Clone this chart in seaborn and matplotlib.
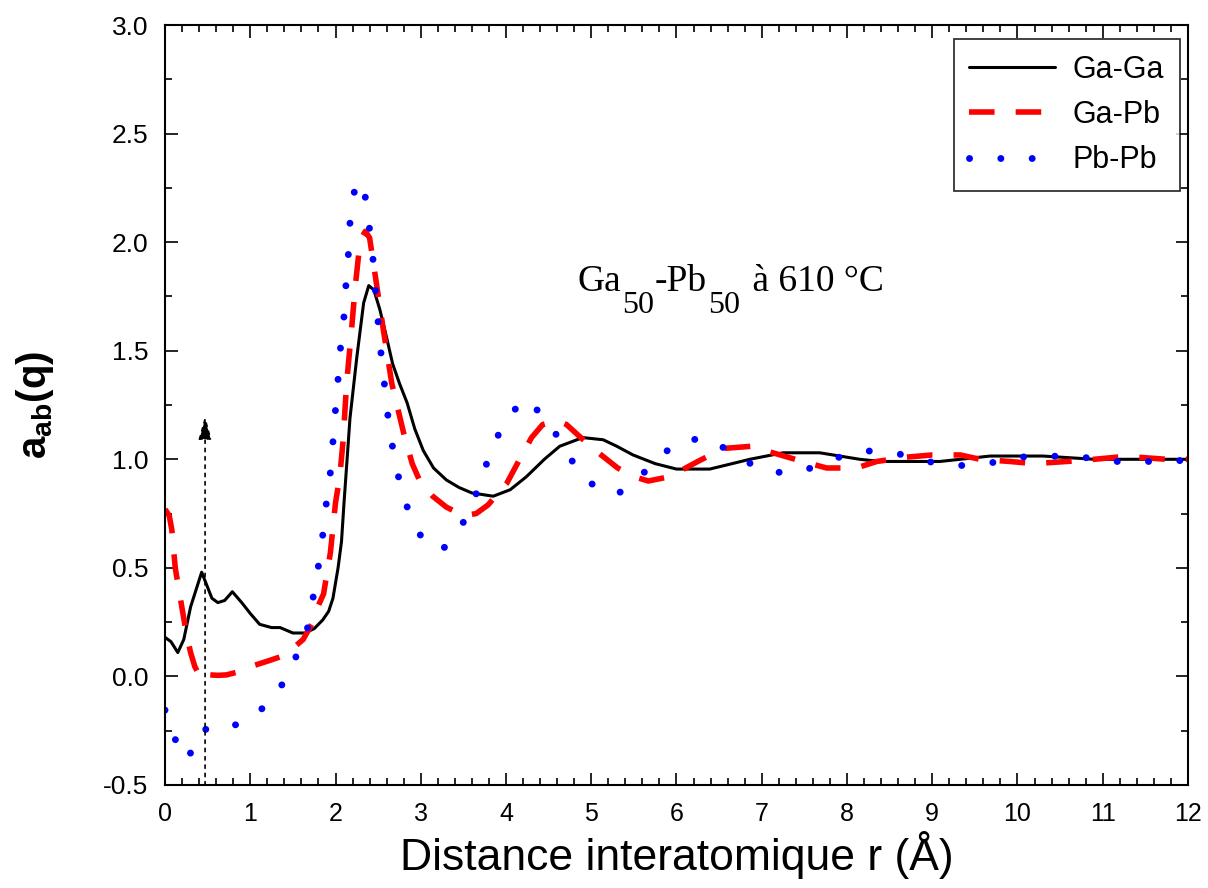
import numpy as np
import pandas as pd
import matplotlib
matplotlib.use("Agg")
import matplotlib.pyplot as plt
import seaborn as sns
from matplotlib.ticker import MultipleLocator, FormatStrFormatter

# Ga-Ga (solid black)
r_gaga = [0.0, 0.07, 0.15, 0.22, 0.3, 0.43, 0.5, 0.55, 0.62, 0.7, 0.79, 0.9, 1.0, 1.11,
          1.25, 1.35, 1.5, 1.64, 1.75, 1.85, 1.92, 1.97, 2.03, 2.07, 2.1, 2.17, 2.25,
          2.33, 2.39, 2.45, 2.52, 2.6, 2.67, 2.75, 2.84, 2.93, 3.03, 3.15, 3.3, 3.45,
          3.6, 3.85, 4.05, 4.24, 4.45, 4.63, 4.9, 5.14, 5.3, 5.49, 5.75, 6.0, 6.39,
          6.6, 6.86, 7.25, 7.68, 8.15, 8.39, 9.09, 9.68, 10.3, 10.9, 12.0]
a_gaga = [0.18, 0.16, 0.11, 0.17, 0.32, 0.48, 0.41, 0.36, 0.34, 0.35, 0.39, 0.34, 0.29, 0.24,
          0.225, 0.225, 0.20, 0.20, 0.22, 0.26, 0.30, 0.36, 0.50, 0.62, 0.80, 1.19, 1.47,
          1.72, 1.80, 1.78, 1.69, 1.56, 1.44, 1.35, 1.26, 1.14, 1.04, 0.96, 0.905, 0.87,
          0.845, 0.83, 0.86, 0.92, 1.0, 1.06, 1.10, 1.09, 1.06, 1.02, 0.98, 0.955, 0.955,
          0.975, 1.0, 1.03, 1.03, 1.0, 0.99, 0.99, 1.015, 1.015, 1.0, 1.0]

# Ga-Pb (red dashed)
r_gapb = [0.0, 0.05, 0.08, 0.12, 0.15, 0.21, 0.25, 0.3, 0.35, 0.41, 0.46, 0.53, 0.62, 0.72,
          0.85, 1.0, 1.2, 1.35, 1.5, 1.62, 1.72, 1.78, 1.86, 1.94, 2.0, 2.05, 2.09, 2.13,
          2.18, 2.23, 2.29, 2.35, 2.4, 2.48, 2.56, 2.66, 2.8, 2.9, 3.0, 3.14, 3.3, 3.5,
          3.65, 3.79, 3.9, 4.01, 4.16, 4.3, 4.43, 4.6, 4.71, 4.85, 5.02, 5.31, 5.5, 5.67,
          5.92, 6.25, 6.55, 6.88, 7.13, 7.48, 7.76, 8.11, 8.35, 8.7, 9.0, 9.33, 9.56,
          9.91, 10.2, 10.58, 10.9, 11.17, 11.4, 11.75, 12.0]
a_gapb = [0.77, 0.74, 0.675, 0.50, 0.43, 0.29, 0.20, 0.11, 0.045, 0.0, -0.02, 0.007, 0.005, 0.007,
          0.02, 0.045, 0.07, 0.09, 0.13, 0.17, 0.24, 0.31, 0.38, 0.57, 0.80, 0.92, 1.09, 1.35,
          1.56, 1.79, 2.01, 2.05, 2.02, 1.81, 1.60, 1.35, 1.12, 0.98, 0.89, 0.83, 0.78, 0.74,
          0.75, 0.79, 0.84, 0.89, 1.0, 1.10, 1.16, 1.18, 1.16, 1.11, 1.05, 0.96, 0.92, 0.90,
          0.92, 0.99, 1.05, 1.06, 1.03, 0.99, 0.96, 0.96, 0.99, 1.01, 1.02, 1.02, 1.0,
          0.99, 0.98, 0.99, 1.0, 1.01, 1.01, 1.0, 1.0]

# Pb-Pb (blue dotted)
r_pbpb = [0.0, 0.12, 0.27, 0.39, 0.53, 0.68, 1.06, 1.33, 1.52, 1.67, 1.74, 1.8, 1.85, 1.89,
          1.94, 1.97, 2.0, 2.03, 2.06, 2.1, 2.12, 2.15, 2.17, 2.22, 2.3, 2.33, 2.37, 2.43,
          2.45, 2.49, 2.51, 2.56, 2.59, 2.64, 2.7, 2.79, 2.91, 3.05, 3.25, 3.5, 3.66, 3.79,
          3.94, 4.2, 4.48, 4.68, 4.93, 5.3, 5.64, 6.0, 6.37, 6.72, 7.07, 7.45, 7.82, 8.19,
          8.56, 8.94, 9.29, 9.65, 10.0, 10.38, 10.76, 11.12, 11.48, 11.84, 12.0]
a_pbpb = [-0.155, -0.29, -0.385, -0.25, -0.24, -0.25, -0.18, -0.07, 0.075, 0.22, 0.37, 0.51, 0.65, 0.79,
          0.94, 1.08, 1.23, 1.37, 1.52, 1.66, 1.79, 1.94, 2.09, 2.23, 2.28, 2.28, 2.13, 1.99,
          1.85, 1.70, 1.56, 1.41, 1.27, 1.13, 0.98, 0.84, 0.70, 0.62, 0.58, 0.71, 0.85, 1.0,
          1.14, 1.28, 1.19, 1.05, 0.90, 0.836, 0.946, 1.08, 1.10, 1.01, 0.94, 0.94, 1.0, 1.04,
          1.03, 0.99, 0.97, 0.98, 1.01, 1.015, 1.01, 0.99, 0.99, 0.99, 1.0]

arrow_r = 0.47

sns.set_style("ticks")
plt.rcParams['font.family'] = ['Liberation Sans', 'DejaVu Sans']
plt.rcParams['text.color'] = 'black'
plt.rcParams['axes.labelcolor'] = 'black'
plt.rcParams['xtick.color'] = 'black'
plt.rcParams['ytick.color'] = 'black'

fig = plt.figure(figsize=(12.08, 8.88), dpi=100)
ax = fig.add_axes([0.1366, 0.116, 0.8468, 0.8558])

df_gaga = pd.DataFrame({"r": r_gaga, "a": a_gaga})
df_gapb = pd.DataFrame({"r": r_gapb, "a": a_gapb})
df_pbpb = pd.DataFrame({"r": r_pbpb, "a": a_pbpb})

sns.lineplot(data=df_gaga, x="r", y="a", ax=ax, color="black", lw=2.2, label="Ga-Ga")
sns.lineplot(data=df_gapb, x="r", y="a", ax=ax, color="#ff0000", lw=4.0,
             dashes=(4.6, 3.8), label="Ga-Pb")
sns.lineplot(data=df_pbpb, x="r", y="a", ax=ax, color="#0000ff", lw=5.0,
             dashes=(0.01, 4.5), dash_capstyle="round", label="Pb-Pb")

# dotted vertical arrow
ax.annotate("", xy=(arrow_r, 1.2), xytext=(arrow_r, -0.5),
            arrowprops=dict(arrowstyle="-|>,head_length=0.9,head_width=0.25",
                            linestyle=(0, (2, 3)), color="black",
                            lw=1.2, mutation_scale=16, shrinkA=0, shrinkB=0))

# "Ga50-Pb50 à 610 °C" with big, lowered subscripts
serif = ["Liberation Serif", "DejaVu Serif"]
main_fs, sub_fs = 27, 23
t1 = ax.text(4.84, 1.775, "Ga", family=serif, fontsize=main_fs, va="baseline", ha="left")
s1 = ax.annotate("50", xy=(1, 0), xycoords=t1, xytext=(1, 6), textcoords="offset points",
                 family=serif, fontsize=sub_fs, va="top", ha="left")
t2 = ax.annotate("-Pb", xy=(1, 0), xycoords=(s1, t1), xytext=(0, 0),
                 textcoords="offset points", family=serif, fontsize=main_fs,
                 va="bottom", ha="left")
s2 = ax.annotate("50", xy=(1, 0), xycoords=t2, xytext=(1, 6), textcoords="offset points",
                 family=serif, fontsize=sub_fs, va="top", ha="left")
t3 = ax.annotate(" à 610 °C", xy=(1, 0), xycoords=(s2, t1), xytext=(2, 0),
                 textcoords="offset points", family=serif, fontsize=main_fs,
                 va="bottom", ha="left")

ax.set_xlim(0, 12)
ax.set_ylim(-0.5, 3.0)
ax.xaxis.set_major_locator(MultipleLocator(1))
ax.xaxis.set_minor_locator(MultipleLocator(0.2))
ax.yaxis.set_major_locator(MultipleLocator(0.5))
ax.yaxis.set_minor_locator(MultipleLocator(0.25))
ax.yaxis.set_major_formatter(FormatStrFormatter("%.1f"))

ax.tick_params(which="both", direction="in", top=True, right=True, width=1.2)
ax.tick_params(which="major", length=9)
ax.tick_params(which="minor", length=5)
ax.tick_params(axis="y", labelsize=19, pad=12)
ax.tick_params(axis="x", labelsize=18, pad=12)
for s in ax.spines.values():
    s.set_linewidth(1.5)
    s.set_color("black")

ax.set_xlabel("Distance interatomique r (Å)", fontsize=32, labelpad=4)
ax.set_ylabel("a$\\mathregular{_{ab}}$(q)", fontsize=29, fontweight="bold", labelpad=34)

leg = ax.legend(loc="upper right", bbox_to_anchor=(0.992, 0.981), borderaxespad=0,
                fontsize=22, handlelength=2.8, labelspacing=0.5, borderpad=0.5,
                handletextpad=0.6, frameon=True, fancybox=False, edgecolor="black")
leg.get_frame().set_linewidth(1.3)

fig.savefig("out.png", dpi=100)
